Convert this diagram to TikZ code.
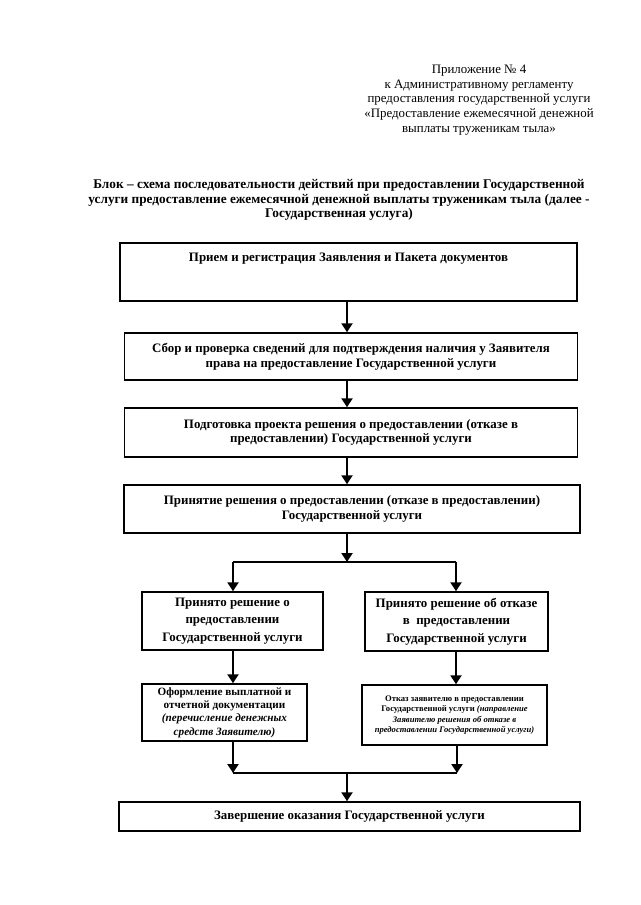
\documentclass[tikz,border=0pt]{standalone}
\usepackage{fontspec}
\setmainfont{Liberation Serif}
\usetikzlibrary{arrows.meta}

\begin{document}
\begin{tikzpicture}[x=1pt,y=-1pt,
    font=\fontsize{12.9}{14.8}\selectfont,
    blok/.style={draw,line width=1.5pt,align=center,inner sep=2pt,
                 font=\fontsize{12.9}{14.8}\selectfont\bfseries},
    strelka/.style={line width=2.2pt,-{Triangle[length=9pt,width=11pt]}},
    liniya/.style={line width=2.2pt}]

  \useasboundingbox (0,0) rectangle (640,905);

  % --- шапка приложения ---
  \node[align=center] (pril) at (479,100)
    {Приложение № 4\\ к Административному регламенту\\
     предоставления государственной услуги\\
     «Предоставление ежемесячной денежной\\ выплаты труженикам тыла»};

  % --- заголовок схемы ---
  \node[align=center,font=\fontsize{13.3}{14.6}\selectfont\bfseries] (zag) at (339,200)
    {Блок – схема последовательности действий при предоставлении Государственной\\
     услуги предоставление ежемесячной денежной выплаты труженикам тыла (далее -\\
     Государственная услуга)};

  % --- основные блоки ---
  \node[blok,minimum width=457,minimum height=58] (b1) at (348.5,272)
    {Прием и регистрация Заявления и Пакета документов\\ \mbox{}\\ \mbox{}};
  \node[blok,minimum width=453,minimum height=47] (b2) at (351,356.5)
    {Сбор и проверка сведений для подтверждения наличия у Заявителя\\
     права на предоставление Государственной услуги};
  \node[blok,minimum width=453,minimum height=49] (b3) at (351,432.5)
    {Подготовка проекта решения о предоставлении (отказе в\\
     предоставлении) Государственной услуги};
  \node[blok,minimum width=456,minimum height=48] (b4) at (352,509)
    {Принятие решения о предоставлении (отказе в предоставлении)\\
     Государственной услуги};

  % --- ветви решения ---
  \node[blok,minimum width=181,minimum height=58,
        font=\fontsize{12.9}{17.5}\selectfont\bfseries] (b5) at (232.5,621)
    {Принято решение о\\ предоставлении\\ Государственной услуги};
  \node[blok,minimum width=183,minimum height=59,
        font=\fontsize{12.9}{17.5}\selectfont\bfseries] (b6) at (456.5,621.5)
    {Принято решение об отказе\\ в\ \ предоставлении\\ Государственной услуги};
  \node[blok,minimum width=165,minimum height=57,
        font=\fontsize{11.2}{13.4}\selectfont\bfseries] (b7) at (224.5,712.5)
    {Оформление выплатной и\\ отчетной документации\\
     \textit{(перечисление денежных}\\ \textit{средств Заявителю)}};
  \node[blok,minimum width=185,minimum height=60,
        font=\fontsize{8.6}{10.6}\selectfont\bfseries] (b8) at (454.5,715)
    {Отказ заявителю в предоставлении\\
     Государственной услуги \textit{(направление}\\
     \textit{Заявителю решения об отказе в}\\
     \textit{предоставлении Государственной услуги)}};

  % --- итоговый блок ---
  \node[blok,minimum width=461,minimum height=29] (b9) at (349.5,816.5)
    {Завершение оказания Государственной услуги};

  % --- точки развилки и слияния ---
  \coordinate (rm) at (347,562);
  \coordinate (rl) at (233,562);
  \coordinate (rr) at (456,562);
  \coordinate (sm) at (347,773);
  \coordinate (sl) at (233,773);
  \coordinate (sr) at (457,773);

  % --- стрелки ---
  \draw[strelka] (b1.south -| rm) -- (b2.north -| rm);
  \draw[strelka] (b2.south -| rm) -- (b3.north -| rm);
  \draw[strelka] (b3.south -| rm) -- (b4.north -| rm);
  \draw[strelka] (b4.south -| rm) -- (rm);
  \draw[liniya] (rl) -- (rr);
  \draw[strelka] (rl) -- (b5.north -| rl);
  \draw[strelka] (rr) -- (b6.north -| rr);
  \draw[strelka] (b5.south -| rl) -- (b7.north -| rl);
  \draw[strelka] (b6.south -| rr) -- (b8.north -| rr);
  \draw[strelka] (b7.south -| sl) -- (sl);
  \draw[strelka] (b8.south -| sr) -- (sr);
  \draw[liniya] (sl) -- (sr);
  \draw[strelka] (sm) -- (b9.north -| sm);

\end{tikzpicture}
\end{document}
